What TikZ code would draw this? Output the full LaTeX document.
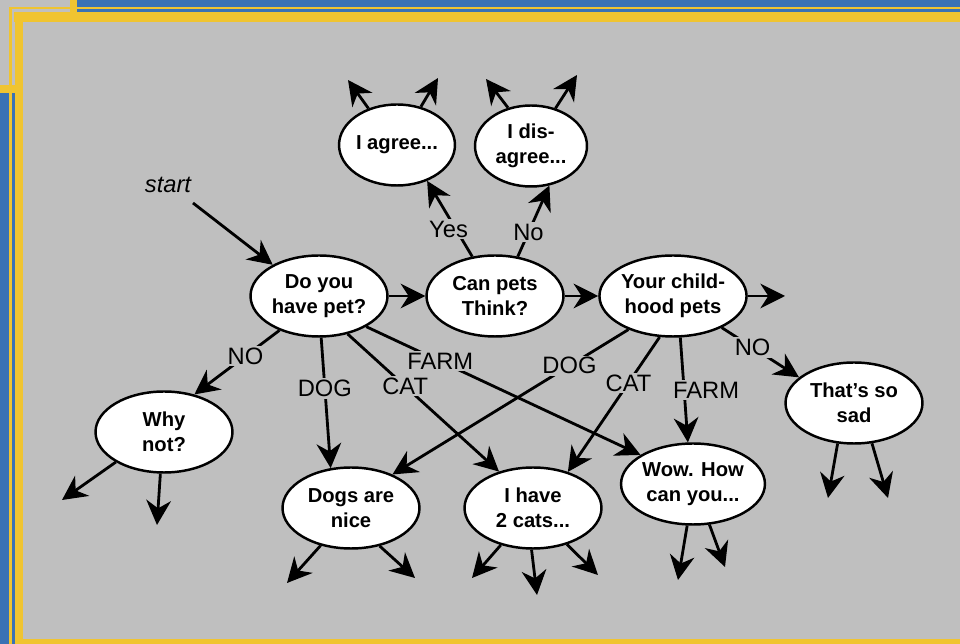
\documentclass[tikz,border=0pt]{standalone}
\usepackage{fontspec}
\setmainfont{Liberation Sans}
\usetikzlibrary{shapes.geometric, arrows.meta, positioning}
\definecolor{bggrey}{RGB}{191,191,191}
\definecolor{frameblue}{RGB}{58,114,180}
\definecolor{frameyellow}{RGB}{240,196,48}
\tikzset{
    talk/.style={ellipse, draw=black, fill=white, line width=1.4pt, minimum width=2.74cm, minimum height=1.62cm, inner sep=0pt, align=center, font=\bfseries\fontsize{11.5}{14}\selectfont},
    arr/.style={line width=1.6pt, -{Stealth[length=14pt, width=14pt, inset=4.5pt]}},
    answer/.style={fill=bggrey, inner sep=1pt, font=\fontsize{13.5}{16}\selectfont}
}
\begin{document}
\begin{tikzpicture}[x=0.02cm, y=-0.02cm]
    % frame
    \useasboundingbox (0,0) rectangle (960,644);
    \fill [bggrey] (0,0) rectangle (960,644);
    \fill [frameblue] (76,0) rectangle (960,12);
    \fill [frameblue] (0,88) rectangle (15,644);
    \fill [frameyellow] (10,7) rectangle (960,9);
    \fill [frameyellow] (9,7) rectangle (12,644);
    \fill [frameyellow] (14,12) rectangle (960,22);
    \fill [frameyellow] (15,12) rectangle (23,644);
    \fill [frameyellow] (70,0) rectangle (77,20);
    \fill [frameyellow] (0,85) rectangle (20,93);
    \fill [frameyellow] (15,639) rectangle (960,644);

    % talk bubbles
    \node [talk] (have) at (319,296) {Do you\\have pet?};
    \node [talk] (pets) at (495,296) {Can pets\\Think?};
    \node [talk] (child) at (673,296) {Your child-\\hood pets};
    \node [talk, minimum width=2.22cm] (agree) at (397,145) {I agree...};
    \node [talk, minimum width=2.24cm] (disagree) at (531,146) {I dis-\\agree...};
    \node [talk] (why) at (164,432) {Why\\not?};
    \node [talk] (dogs) at (351,508) {Dogs are\\nice};
    \node [talk] (cats) at (533,508) {I have\\2 cats...};
    \node [talk] (wow) at (693,484) {Wow. How\\can you...};
    \node [talk] (sad) at (854,403) {That's so\\sad};

    % start
    \node [font=\itshape\fontsize{13.5}{16}\selectfont] (start) at (168,185) {start};
    \coordinate (startend) at (193,203);
    \draw [arr] (startend) -- (have.146);

    % answers
    \draw [arr] (have.east) -- (pets.west);
    \draw [arr] (pets.east) -- (child.west);
    \draw [arr] (pets.120) -- node[answer, pos=0.36, xshift=-0.15cm] {Yes} (agree.310);
    \draw [arr] (pets.60) -- node[answer, pos=0.34] {No} (disagree.295);
    \draw [arr] (have.221) -- node[answer, pos=0.4] {NO} (why.51);
    \draw [arr] (have.273) -- node[answer, pos=0.39] {DOG} (dogs.117);
    \draw [arr] (have.307) -- node[answer, pos=0.38] {CAT} (cats.133);
    \draw [arr] (have.327) -- node[answer, pos=0.27] {FARM} (wow.151);
    \draw [arr] (child.217) -- node[answer, pos=0.25] {DOG} (dogs.39);
    \draw [arr] (child.252) -- node[answer, pos=0.34] {CAT} (cats.46);
    \draw [arr] (child.280) -- node[answer, pos=0.5, xshift=0.44cm] {FARM} (wow.97);
    \draw [arr] (child.327) -- node[answer, pos=0.4] {NO} (sad.155);

    % loose ends
    \foreach \src/\ang/\px/\py [count=\i] in {agree/128/348/80, agree/58/438/78, disagree/121/486/79, disagree/57/577/75, child/0/785/296, why/212/62/500, why/265/157/525, dogs/231/287/583, dogs/307/415/578, cats/229/472/578, cats/268/537/595, cats/313/598/575, wow/262/678/580, wow/292/725/567, sad/248/828/498, sad/294/888/498}
    {
        \coordinate (out\i) at (\px,\py);
        \draw [arr] (\src.\ang) -- (out\i);
    }
\end{tikzpicture}
\end{document}
